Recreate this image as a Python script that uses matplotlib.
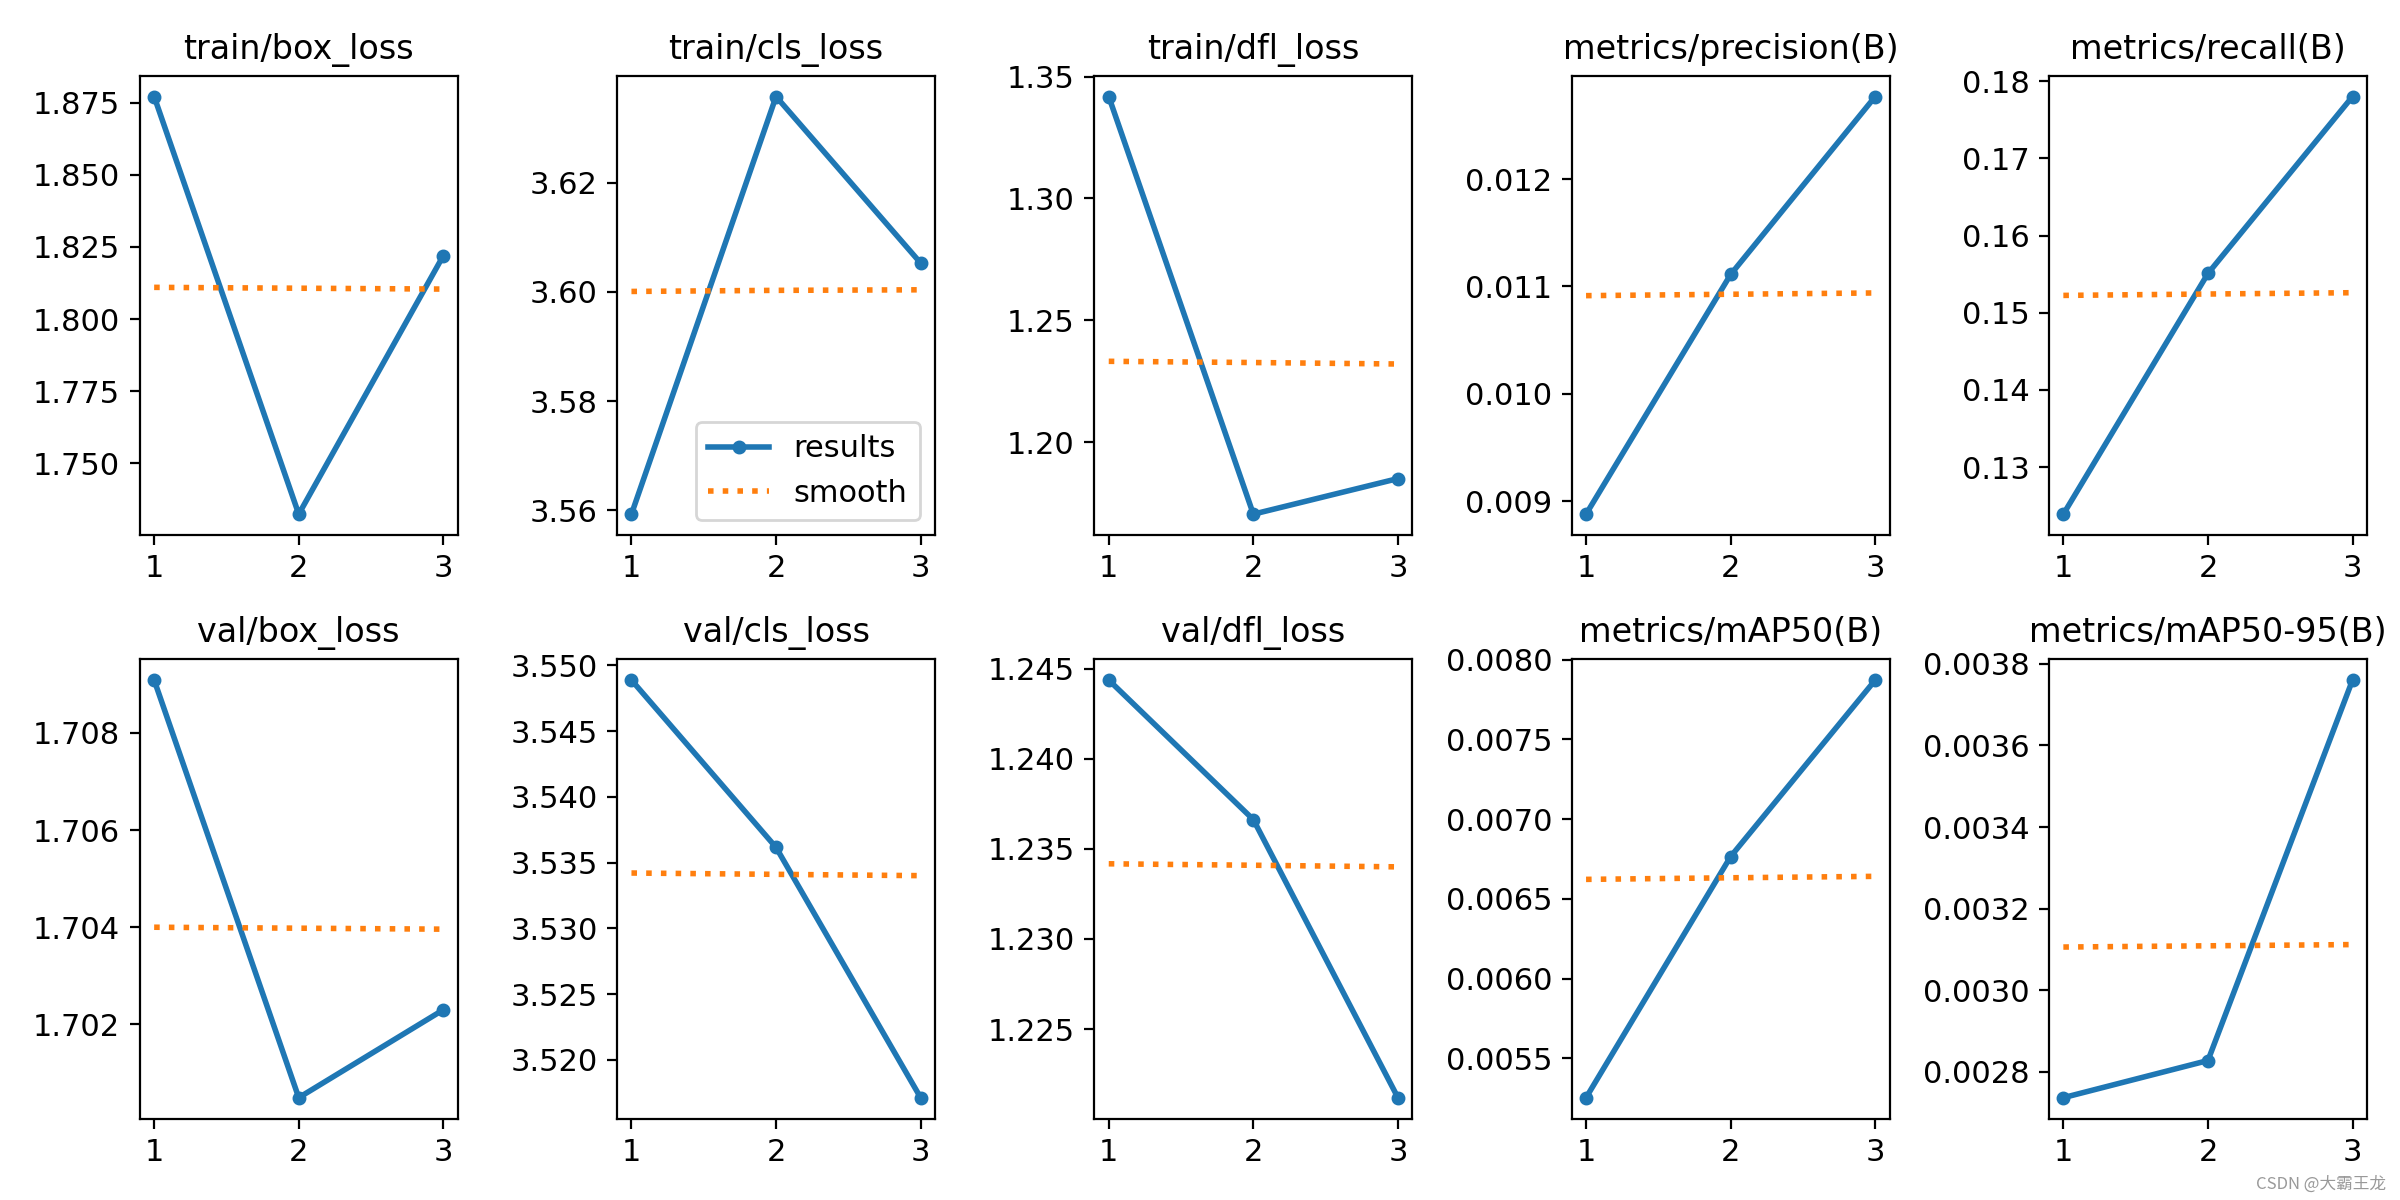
import numpy as np
import matplotlib
matplotlib.use('Agg')
import matplotlib.pyplot as plt

plt.rcParams['font.size'] = 11

epochs = [1, 2, 3]

titles = ['train/box_loss', 'train/cls_loss', 'train/dfl_loss',
          'metrics/precision(B)', 'metrics/recall(B)',
          'val/box_loss', 'val/cls_loss', 'val/dfl_loss',
          'metrics/mAP50(B)', 'metrics/mAP50-95(B)']

# values
train_box = [1.8772, 1.7323, 1.8220]
train_cls = [3.5593, 3.6358, 3.6053]
train_dfl = [1.3418, 1.1705, 1.1851]
precision = [0.008879, 0.011111, 0.012768]
recall = [0.12389, 0.15508, 0.17801]
val_box = [1.70909, 1.70049, 1.70230]
val_cls = [3.54889, 3.53616, 3.51712]
val_dfl = [1.24436, 1.23662, 1.22120]
map50 = [0.005253, 0.006765, 0.007872]
map50_95 = [0.002737, 0.002828, 0.003760]

results = [train_box, train_cls, train_dfl, precision, recall,
           val_box, val_cls, val_dfl, map50, map50_95]

# smoothed curves, also
smooth = [
    [1.8110, 1.8107, 1.8104],
    [3.6001, 3.6003, 3.6004],
    [1.2332, 1.2327, 1.2321],
    [0.010914, 0.010927, 0.010939],
    [0.15224, 0.15242, 0.15259],
    [1.70400, 1.70398, 1.70396],
    [3.53421, 3.53411, 3.53401],
    [1.23417, 1.23409, 1.23400],
    [0.006622, 0.006632, 0.006641],
    [0.003106, 0.003109, 0.003112],
]

fig, ax = plt.subplots(2, 5, figsize=(12, 6), tight_layout=True)
ax = ax.ravel()
for i in range(len(titles)):
    ax[i].plot(epochs, results[i], marker='.', label='results', linewidth=2, markersize=8)
    ax[i].plot(epochs, smooth[i], ':', label='smooth', linewidth=2)
    ax[i].set_title(titles[i], fontsize=12)
ax[1].legend()

fig.text(0.994, 0.006, 'CSDN @大霸王龙', ha='right', va='bottom', fontsize=6,
         color='#999999', family=['Noto Sans CJK SC', 'DejaVu Sans'])

fig.savefig('out.png', dpi=200)
